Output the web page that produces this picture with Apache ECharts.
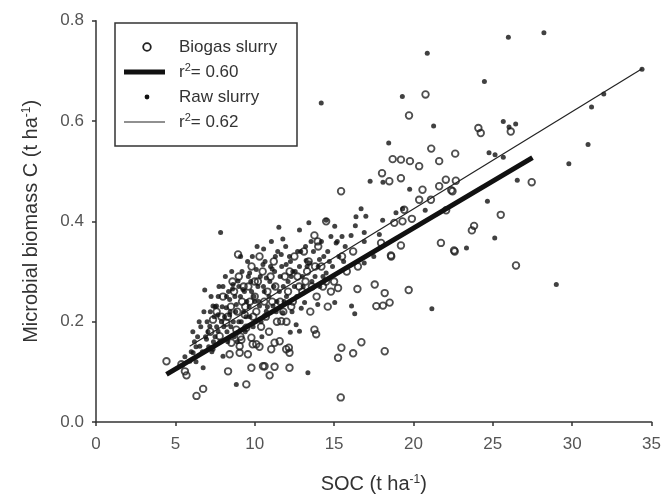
<!DOCTYPE html>
<html><head><meta charset="utf-8">
<script src="https://cdn.jsdelivr.net/npm/echarts@6/dist/echarts.min.js"></script>
<style>html,body{margin:0;padding:0;background:#fff}#c{width:664px;height:499px}</style>
</head><body><div id="c"></div>
<script>
// Biogas slurry (open circles): [SOC, microbial biomass C]
const biogas = [
[4.44,0.121],[5.38,0.115],[5.6,0.101],[5.7,0.093],[6.33,0.052],[6.75,0.066],[8.32,0.101],[9.47,0.075],
[10.62,0.111],[10.94,0.093],[11.25,0.110],[10.52,0.111],[12.19,0.108],[9.79,0.108],
[8.42,0.135],[9.05,0.138],[9.57,0.135],[9.87,0.155],[9.05,0.151],[10.1,0.155],[9.79,0.168],[11.04,0.145],
[11.57,0.161],[11.25,0.158],[12.15,0.148],[12.19,0.138],[11.98,0.145],[11.67,0.201],[13.87,0.175],[13.76,0.184],
[8.95,0.334],[7.37,0.204],[8.21,0.198],[8.84,0.184],[9.16,0.164],[8.53,0.158],[7.79,0.171],[9.37,0.214],[9.47,0.188],
[9.2,0.24],[9.6,0.27],[10.0,0.25],[10.2,0.28],[10.5,0.30],[10.8,0.26],[11.0,0.29],[11.3,0.27],[11.6,0.24],
[11.9,0.29],[12.1,0.26],[12.4,0.24],[12.7,0.29],[13.0,0.26],[13.3,0.30],[13.6,0.27],[13.9,0.25],[14.2,0.31],
[14.5,0.28],[14.8,0.26],[9.9,0.21],[10.4,0.19],[10.9,0.18],[11.4,0.20],[12.0,0.20],[8.0,0.25],[8.5,0.23],
[7.6,0.22],[9.0,0.29],[9.8,0.31],[10.3,0.33],[12.5,0.33],[13.1,0.34],[14.0,0.35],[15.5,0.33],[15.8,0.30],
[16.2,0.34],[16.5,0.31],[15.0,0.28],[14.6,0.23],[13.5,0.22],
[7.2,0.18],[7.9,0.21],[8.3,0.21],[8.7,0.26],[8.9,0.22],[9.3,0.27],[9.4,0.23],[9.7,0.24],[10.1,0.22],
[10.6,0.24],[10.7,0.21],[11.1,0.24],[11.2,0.32],[11.8,0.22],[12.2,0.30],[12.3,0.23],[12.8,0.27],[13.2,0.28],
[13.4,0.32],[13.8,0.31],[14.3,0.27],[10.0,0.28],[8.6,0.28],[9.1,0.17],[10.3,0.15],
[15.25,0.267],[16.47,0.265],[17.56,0.274],[18.19,0.257],[17.66,0.231],[18.08,0.232],[18.5,0.238],[19.7,0.263],
[15.25,0.128],[15.46,0.148],[16.2,0.137],[16.72,0.159],[18.19,0.141],[15.42,0.049],
[18.6,0.33],[22.6,0.34],[26.46,0.312],[20.76,0.653],[19.72,0.611],[21.12,0.545],[22.63,0.535],[18.69,0.524],
[19.21,0.523],[19.78,0.52],[20.36,0.51],[21.62,0.52],[18.02,0.496],[18.48,0.48],[19.21,0.486],[15.44,0.46],
[20.57,0.463],[20.36,0.443],[21.1,0.443],[21.62,0.47],[22.04,0.483],[22.67,0.481],[22.46,0.46],[22.38,0.462],
[19.42,0.423],[19.9,0.405],[19.31,0.40],[18.79,0.397],[22.06,0.422],[17.96,0.357],[19.21,0.352],[21.73,0.357],
[18.58,0.332],[24.09,0.586],[24.24,0.576],[26.13,0.579],[27.45,0.478],[25.5,0.413],[23.82,0.391],[23.68,0.382],
[22.56,0.342],[13.76,0.372],[13.97,0.36],[14.5,0.40]
];
// Raw slurry (small dots)
const raw = [
[5.6,0.13],[5.91,0.121],[6.0,0.14],[6.12,0.138],[6.2,0.16],[6.3,0.12],[6.4,0.17],[6.54,0.151],[6.6,0.19],
[6.75,0.108],[6.85,0.263],[6.9,0.17],[6.96,0.165],[7.0,0.20],[7.1,0.15],[7.17,0.191],[7.2,0.22],[7.3,0.14],
[7.37,0.231],[7.37,0.145],[7.5,0.23],[7.5,0.17],[7.59,0.231],[7.69,0.181],[7.69,0.214],[7.7,0.25],[7.85,0.378],
[7.9,0.20],[8.0,0.131],[8.0,0.27],[8.1,0.21],[8.21,0.228],[8.22,0.25],[8.3,0.16],[8.42,0.214],[8.42,0.244],
[8.5,0.19],[8.6,0.265],[8.63,0.274],[8.7,0.17],[8.8,0.22],[8.84,0.234],[8.84,0.075],[8.95,0.281],[9.0,0.20],
[9.1,0.25],[9.11,0.33],[9.26,0.264],[9.3,0.22],[9.4,0.18],[9.5,0.24],[9.6,0.29],[9.68,0.297],[9.7,0.21],
[9.8,0.26],[9.9,0.19],[10.0,0.24],[10.1,0.304],[10.2,0.27],[10.3,0.231],[10.4,0.20],[10.52,0.314],[10.56,0.345],
[10.6,0.26],[10.73,0.221],[10.73,0.287],[10.9,0.25],[11.0,0.31],[11.1,0.305],[11.15,0.231],[11.2,0.27],
[11.3,0.33],[11.4,0.24],[11.52,0.388],[11.6,0.29],[11.67,0.334],[11.77,0.218],[11.77,0.365],[11.8,0.27],
[11.98,0.314],[12.0,0.25],[12.19,0.33],[12.19,0.238],[12.24,0.179],[12.3,0.29],[12.4,0.30],[12.5,0.27],
[12.61,0.194],[12.7,0.34],[12.82,0.181],[12.82,0.31],[12.82,0.383],[12.93,0.227],[13.0,0.29],[13.14,0.238],
[13.2,0.35],[13.24,0.322],[13.35,0.098],[13.41,0.397],[13.45,0.317],[13.6,0.28],[13.7,0.34],[13.97,0.234],
[14.0,0.31],[14.08,0.324],[14.2,0.36],[14.19,0.636],[14.3,0.29],[14.5,0.297],[14.5,0.402],[14.6,0.34],
[14.8,0.37],[14.9,0.31],[15.04,0.238],[15.04,0.39],[15.13,0.357],[15.3,0.33],[15.5,0.37],[15.7,0.35],
[6.1,0.18],[6.3,0.15],[6.5,0.20],[6.7,0.14],[6.8,0.22],[7.05,0.18],[7.25,0.25],[7.4,0.16],[7.45,0.21],
[7.6,0.19],[7.75,0.27],[7.8,0.16],[7.95,0.23],[8.05,0.19],[8.15,0.29],[8.25,0.18],[8.35,0.26],[8.45,0.22],
[8.55,0.30],[8.65,0.20],[8.75,0.25],[8.9,0.16],[9.0,0.27],[9.15,0.20],[9.2,0.30],[9.35,0.26],[9.45,0.21],
[9.55,0.32],[9.65,0.23],[9.75,0.28],[9.85,0.33],[9.95,0.25],[10.05,0.20],[10.15,0.35],[10.25,0.24],[10.35,0.29],
[10.45,0.17],[10.55,0.27],[10.65,0.32],[10.8,0.23],[10.95,0.28],[11.05,0.36],[11.25,0.30],[11.35,0.22],
[11.45,0.34],[11.55,0.26],[11.7,0.31],[11.85,0.24],[11.95,0.35],[12.1,0.28],[12.25,0.32],[12.35,0.22],
[12.55,0.30],[12.65,0.25],[12.9,0.34],[13.05,0.27],[13.3,0.31],[13.55,0.36],[13.8,0.29],[14.1,0.27],
[14.35,0.33],[14.7,0.32],[15.2,0.36],[15.6,0.32],
[16.07,0.372],[16.1,0.231],[16.3,0.216],[16.34,0.391],[16.38,0.409],[16.7,0.425],[16.9,0.378],[16.9,0.36],
[17.0,0.41],[16.9,0.317],[17.5,0.33],[17.27,0.48],[17.85,0.374],[18.06,0.402],[18.08,0.478],[18.44,0.556],
[18.9,0.417],[19.32,0.425],[19.3,0.649],[19.76,0.464],[20.74,0.422],[20.87,0.735],[21.16,0.226],[21.27,0.59],
[24.47,0.679],[24.66,0.44],[25.12,0.367],[23.34,0.347],[24.76,0.537],[25.14,0.533],[25.66,0.528],[26.54,0.482],
[25.66,0.599],[26.02,0.588],[26.44,0.594],[25.98,0.767],[28.22,0.776],[29.0,0.274],[29.79,0.515],[31.0,0.553],
[31.22,0.628],[31.99,0.654],[34.4,0.703]
];
// Regression line end points
const biogasFit = [[4.44,0.095],[27.5,0.527]];
const rawFit = [[5.9,0.151],[34.4,0.704]];
const legendLabels = ['Biogas slurry','r{s|2}= 0.60','Raw slurry','r{s|2}= 0.62'];
const xTicks = {min:0,max:35,interval:5};
const yTicks = {min:0,max:0.8,interval:0.2};

const FONT = 'Liberation Sans, Arial, sans-serif';
const chart = echarts.init(document.getElementById('c'), null, {renderer:'canvas'});
const L = {x:115, y:23, w:182, h:123};
const rowY = [47,72,97,122];
const txt = (i) => ({type:'text', left:179, top:rowY[i]-10, z:10,
  style:{text:legendLabels[i], fontFamily:FONT, fontSize:17, fill:'#333', lineHeight:20,
    rich:{s:{fontSize:11, fontFamily:FONT, fill:'#333', verticalAlign:'top', lineHeight:20}}}});
chart.setOption({
  animation:false,
  backgroundColor:'#fff',
  grid:{left:96, right:11, top:20.7, bottom:76.3, containLabel:false},
  xAxis:{type:'value', min:xTicks.min, max:xTicks.max, interval:xTicks.interval,
    name:'SOC (t ha{s|-1})', nameLocation:'middle', nameGap:52,
    nameTextStyle:{fontFamily:FONT, fontSize:20, color:'#333', rich:{s:{fontSize:12, fontFamily:FONT, color:'#333', verticalAlign:'top', lineHeight:20}}},
    axisLine:{lineStyle:{color:'#333', width:1.5}},
    axisTick:{show:true, inside:false, length:4, lineStyle:{color:'#333', width:1.5}},
    axisLabel:{fontFamily:FONT, fontSize:17, color:'#555', margin:14},
    splitLine:{show:false}},
  yAxis:{type:'value', min:yTicks.min, max:yTicks.max, interval:yTicks.interval,
    name:'Microbial biomass C (t ha{s|-1})', nameLocation:'middle', nameGap:55, nameRotate:90,
    nameTextStyle:{fontFamily:FONT, fontSize:20, color:'#333', rich:{s:{fontSize:12, fontFamily:FONT, color:'#333', verticalAlign:'top', lineHeight:20}}},
    axisLine:{show:true, lineStyle:{color:'#333', width:1.5}},
    axisTick:{show:true, inside:false, length:4, lineStyle:{color:'#333', width:1.5}},
    axisLabel:{fontFamily:FONT, fontSize:17, color:'#555', margin:12, formatter:(v)=>v.toFixed(1)},
    splitLine:{show:false}},
  series:[
    {name:'Biogas slurry', type:'scatter', data:biogas, symbol:'circle', symbolSize:6.6,
      itemStyle:{color:'rgba(255,255,255,0)', borderColor:'#222', borderWidth:1.8}, z:3},
    {name:'Raw slurry', type:'scatter', data:raw, symbol:'circle', symbolSize:5,
      itemStyle:{color:'#111'}, z:4},
    {name:'Biogas fit', type:'line', data:biogasFit, showSymbol:false, symbol:'none',
      lineStyle:{color:'#111', width:5}, z:5},
    {name:'Raw fit', type:'line', data:rawFit, showSymbol:false, symbol:'none',
      lineStyle:{color:'#222', width:1.2}, z:5}
  ],
  graphic:[
    {type:'rect', shape:{x:L.x, y:L.y, width:L.w, height:L.h}, z:9,
      style:{fill:'#fff', stroke:'#333', lineWidth:1.5}},
    {type:'circle', shape:{cx:147, cy:rowY[0], r:3.8}, z:10, style:{fill:'#fff', stroke:'#222', lineWidth:1.8}},
    {type:'line', shape:{x1:124, y1:rowY[1], x2:165, y2:rowY[1]}, z:10, style:{stroke:'#111', lineWidth:5}},
    {type:'circle', shape:{cx:147, cy:rowY[2], r:2.4}, z:10, style:{fill:'#111'}},
    {type:'line', shape:{x1:124, y1:rowY[3], x2:165, y2:rowY[3]}, z:10, style:{stroke:'#222', lineWidth:1.2}},
    txt(0), txt(1), txt(2), txt(3)
  ]
});
</script></body></html>
